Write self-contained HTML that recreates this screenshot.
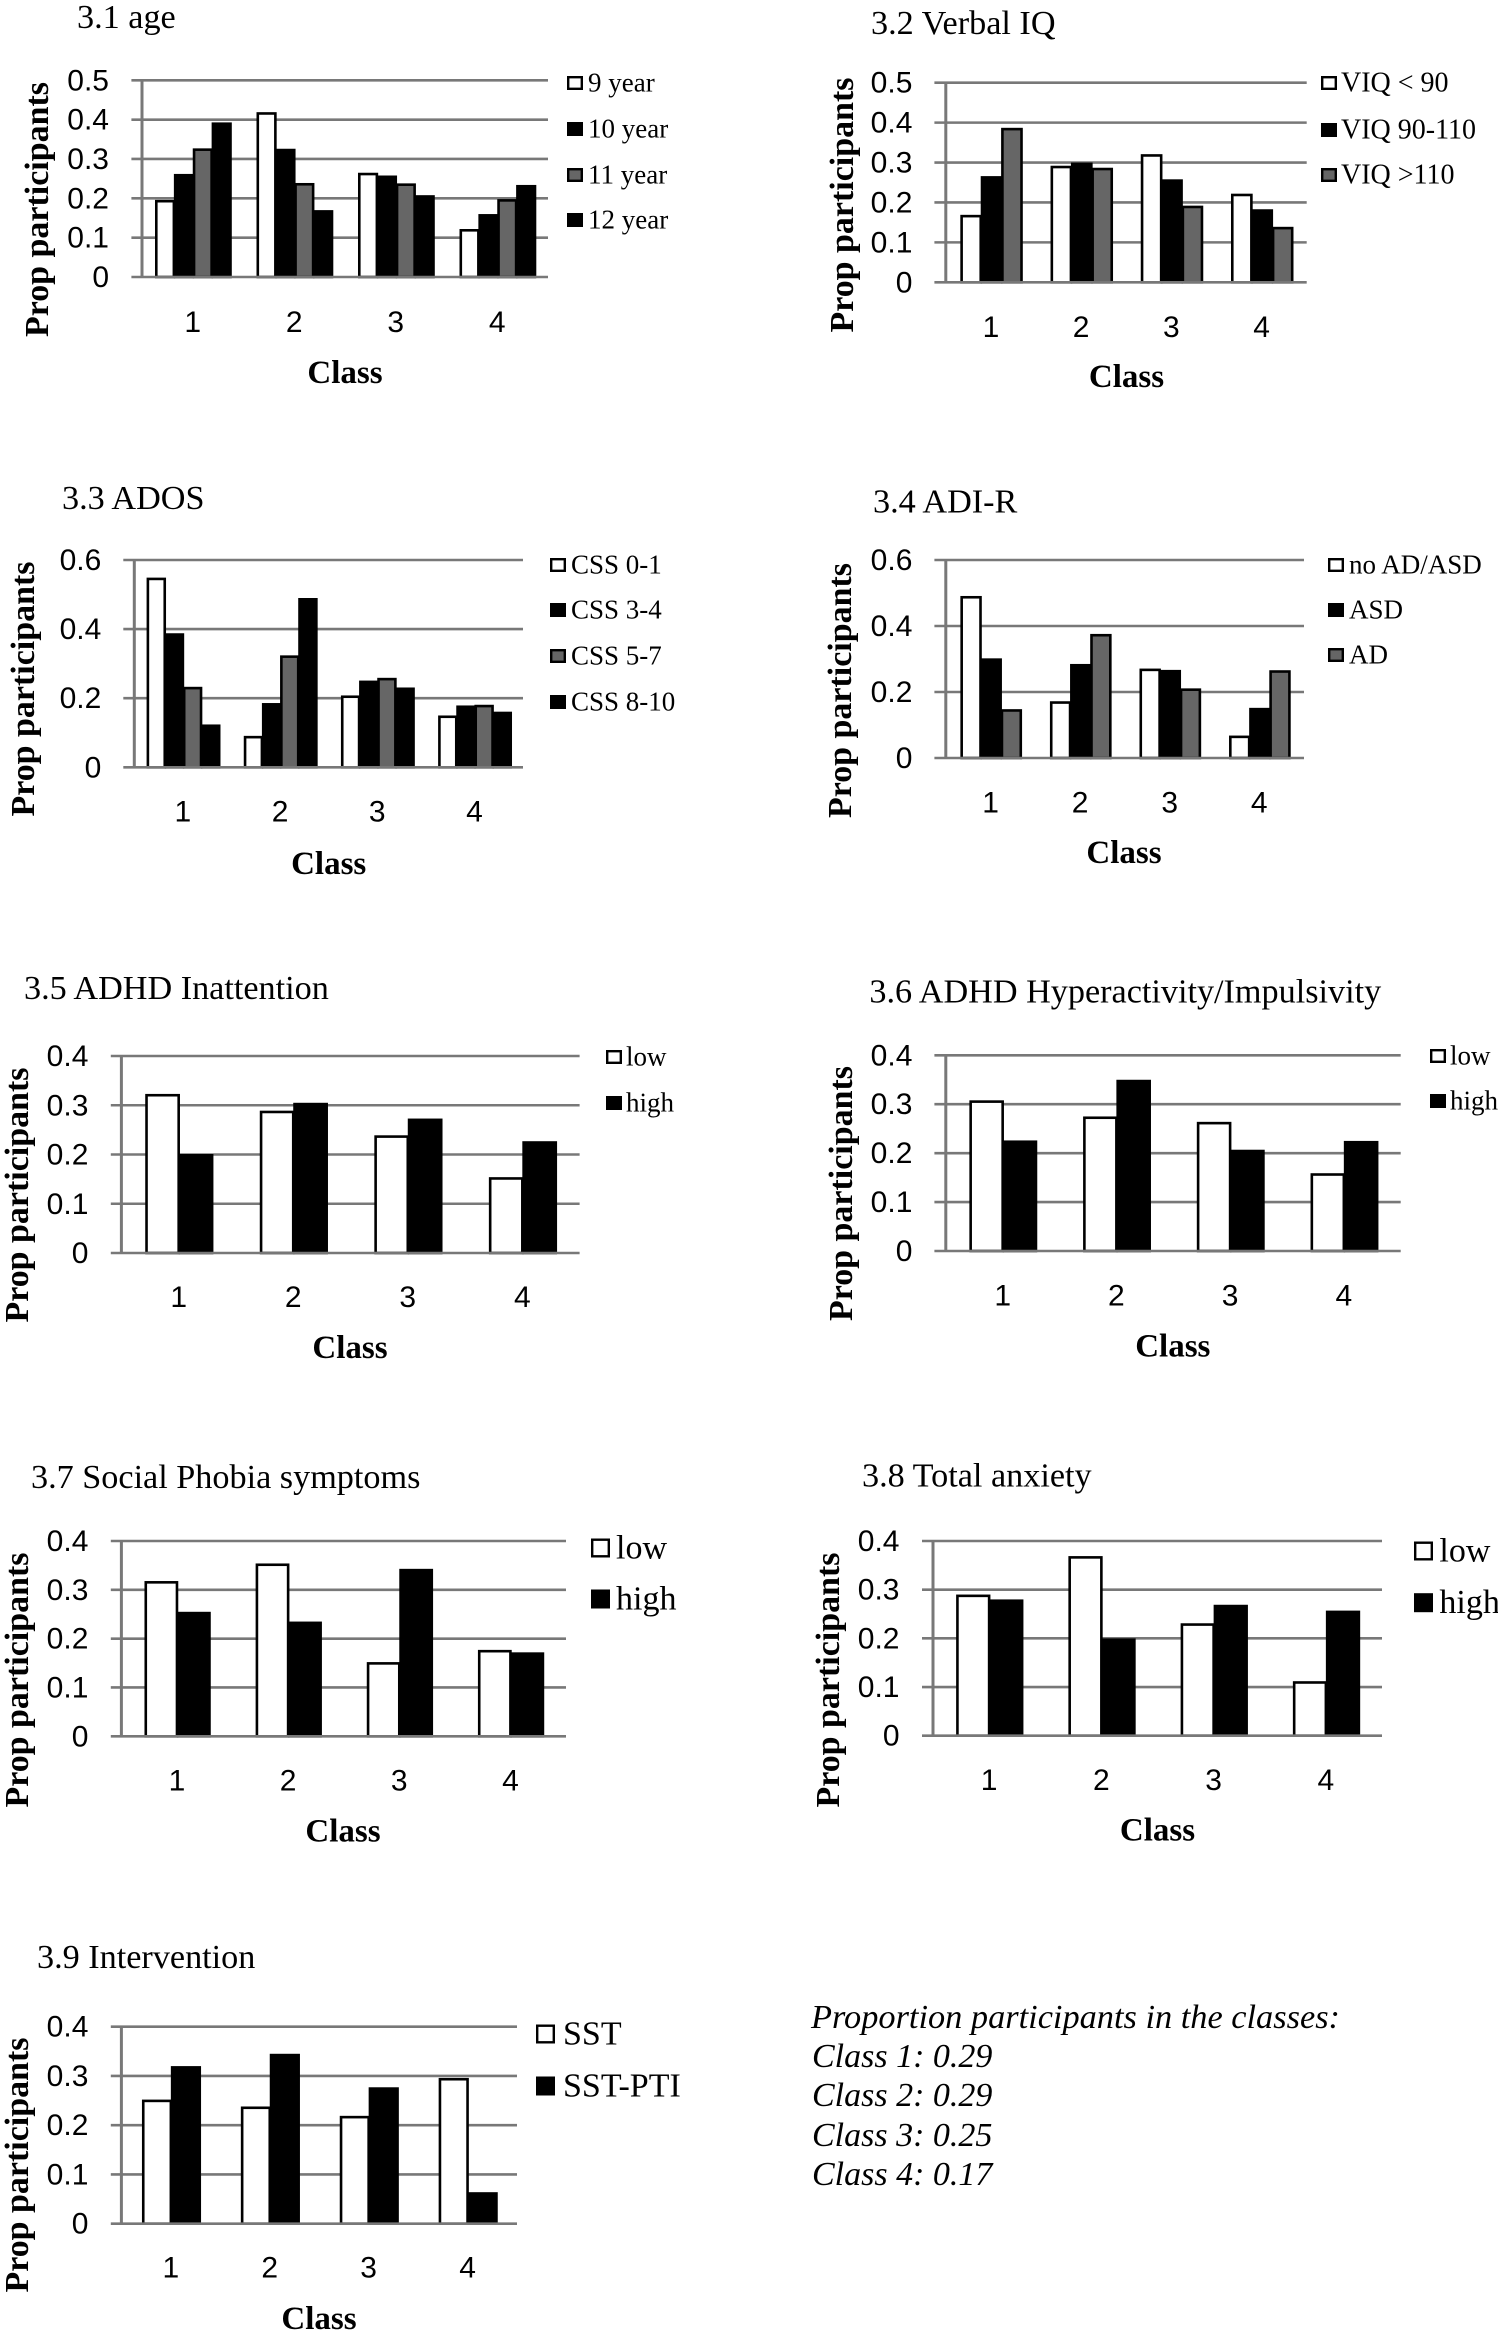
<!DOCTYPE html>
<html lang="en">
<head>
<meta charset="utf-8">
<title>Proportion of participants by class</title>
<style>
html,body{margin:0;padding:0;background:#fff;width:1498px;height:2341px;overflow:hidden}
svg{display:block}
text{fill:#000}
.serif{font-family:"Liberation Serif",serif}
.sans{font-family:"Liberation Sans",sans-serif}
</style>
</head>
<body>
<svg id="figure" xmlns="http://www.w3.org/2000/svg" width="1498" height="2341" viewBox="0 0 1498 2341">
  <g class="serif" font-style="italic" font-size="34">
    <text x="811" y="2028" textLength="529" lengthAdjust="spacingAndGlyphs">Proportion participants in the classes:</text>
    <text x="812" y="2067">Class 1: 0.29</text>
    <text x="812" y="2106">Class 2: 0.29</text>
    <text x="812" y="2146">Class 3: 0.25</text>
    <text x="812" y="2185">Class 4: 0.17</text>
  </g>
</svg>
<script>
// ---------- chart data ----------
const classLabels = ['1', '2', '3', '4'];
const ticks05 = [0, 0.1, 0.2, 0.3, 0.4, 0.5];
const tickLabels05 = ['0', '0.1', '0.2', '0.3', '0.4', '0.5'];
const ticks06 = [0, 0.2, 0.4, 0.6];
const tickLabels06 = ['0', '0.2', '0.4', '0.6'];
const ticks04 = [0, 0.1, 0.2, 0.3, 0.4];
const tickLabels04 = ['0', '0.1', '0.2', '0.3', '0.4'];

const ageNames = ['9 year', '10 year', '11 year', '12 year'];
const age9 = [0.196, 0.419, 0.265, 0.122];
const age10 = [0.262, 0.326, 0.258, 0.160];
const age11 = [0.327, 0.239, 0.238, 0.198];
const age12 = [0.393, 0.170, 0.208, 0.234];

const viqNames = ['VIQ < 90', 'VIQ 90-110', 'VIQ >110'];
const viqLow = [0.169, 0.292, 0.321, 0.222];
const viqMid = [0.266, 0.300, 0.258, 0.183];
const viqHigh = [0.387, 0.287, 0.192, 0.139];

const adosNames = ['CSS 0-1', 'CSS 3-4', 'CSS 5-7', 'CSS 8-10'];
const ados01 = [0.549, 0.091, 0.208, 0.150];
const ados34 = [0.388, 0.186, 0.251, 0.179];
const ados57 = [0.233, 0.324, 0.259, 0.181];
const ados810 = [0.124, 0.490, 0.231, 0.161];

const adiNames = ['no AD/ASD', 'ASD', 'AD'];
const adiNone = [0.491, 0.172, 0.271, 0.068];
const adiAsd = [0.302, 0.285, 0.267, 0.152];
const adiAd = [0.148, 0.376, 0.211, 0.266];

const lowHighNames = ['low', 'high'];
const inattentionLow = [0.323, 0.289, 0.239, 0.154];
const inattentionHigh = [0.201, 0.305, 0.273, 0.227];
const hyperactivityLow = [0.308, 0.275, 0.264, 0.159];
const hyperactivityHigh = [0.226, 0.350, 0.207, 0.225];
const phobiaLow = [0.318, 0.354, 0.152, 0.177];
const phobiaHigh = [0.255, 0.235, 0.343, 0.172];
const anxietyLow = [0.290, 0.369, 0.231, 0.112];
const anxietyHigh = [0.280, 0.200, 0.269, 0.257];

const interventionNames = ['SST', 'SST-PTI'];
const interventionSst = [0.252, 0.238, 0.219, 0.296];
const interventionPti = [0.320, 0.345, 0.277, 0.064];

const fourFills = ['#fff', '#000', '#666', '#000'];
const threeFills = ['#fff', '#000', '#666'];
const twoFills = ['#fff', '#000'];

// ---------- chart definitions (data references plus frame layout) ----------
const charts = [
  {id:'age', title:'3.1 age', tx:77, ty:28, series:[age9, age10, age11, age12], names:ageNames, fills:fourFills, ticks:ticks05, tickLabels:tickLabels05,
   left:142, right:548, top:80.3, base:277, gridStart:131.4, span:75.5, tickRight:109, xBase:332, classX:345, classY:383, ytX:48, ytY:209.5,
   legSwX:567, legTx:588, legY:[83, 129, 175, 220], legSize:27, swW:16, swH:14},
  {id:'verbal-iq', title:'3.2 Verbal IQ', tx:871, ty:34, series:[viqLow, viqMid, viqHigh], names:viqNames, fills:threeFills, ticks:ticks05, tickLabels:tickLabels05,
   left:945.8, right:1306.7, top:82.7, base:282.3, gridStart:934.4, span:61.2, tickRight:912.4, xBase:337, classX:1126.5, classY:387, ytX:853, ytY:205,
   legSwX:1321, legTx:1341, legY:[83, 130, 175], legSize:28, swW:16, swH:14},
  {id:'ados', title:'3.3 ADOS', tx:62, ty:509, series:[ados01, ados34, ados57, ados810], names:adosNames, fills:fourFills, ticks:ticks06, tickLabels:tickLabels06,
   left:134.3, right:523, top:560, base:767.3, gridStart:123.3, span:72.6, tickRight:101.3, xBase:821.7, classX:328.7, classY:874, ytX:34, ytY:689,
   legSwX:550, legTx:571, legY:[565, 610, 656, 702], legSize:27, swW:16, swH:14},
  {id:'adi-r', title:'3.4 ADI-R', tx:873, ty:512.7, series:[adiNone, adiAsd, adiAd], names:adiNames, fills:threeFills, ticks:ticks06, tickLabels:tickLabels06,
   left:945.8, right:1304, top:560, base:758, gridStart:934.4, span:60.4, tickRight:912.4, xBase:812.7, classX:1124, classY:863, ytX:851, ytY:690.5,
   legSwX:1328, legTx:1349, legY:[565, 610, 655], legSize:27, swW:16, swH:14},
  {id:'adhd-inattention', title:'3.5 ADHD Inattention', tx:24, ty:999, series:[inattentionLow, inattentionHigh], names:lowHighNames, fills:twoFills, ticks:ticks04, tickLabels:tickLabels04,
   left:121.4, right:579.6, top:1056, base:1253, gridStart:110.8, span:66.9, tickRight:88.4, xBase:1307, classX:350, classY:1358, ytX:28, ytY:1195,
   legSwX:606, legTx:626, legY:[1057, 1103], legSize:27, swW:16, swH:14},
  {id:'adhd-hyperactivity', title:'3.6 ADHD Hyperactivity/Impulsivity', tx:869.4, ty:1002.7, series:[hyperactivityLow, hyperactivityHigh], names:lowHighNames, fills:twoFills, ticks:ticks04, tickLabels:tickLabels04,
   left:945.8, right:1400.7, top:1055.3, base:1251, gridStart:934.4, span:66.6, tickRight:912.4, xBase:1305.7, classX:1172.8, classY:1356.7, ytX:852, ytY:1193.5,
   legSwX:1430, legTx:1450, legY:[1056, 1101], legSize:27, swW:16, swH:14},
  {id:'social-phobia', title:'3.7 Social Phobia symptoms', tx:31, ty:1488, series:[phobiaLow, phobiaHigh], names:lowHighNames, fills:twoFills, ticks:ticks04, tickLabels:tickLabels04,
   left:121.4, right:566, top:1541, base:1736.3, gridStart:110.8, span:65, tickRight:88.4, xBase:1790.7, classX:343, classY:1841.7, ytX:28, ytY:1680,
   legSwX:591, legTx:616, legY:[1548, 1599], legSize:34, swW:19, swH:19},
  {id:'total-anxiety', title:'3.8 Total anxiety', tx:862, ty:1486.7, series:[anxietyLow, anxietyHigh], names:lowHighNames, fills:twoFills, ticks:ticks04, tickLabels:tickLabels04,
   left:933, right:1382, top:1541, base:1735.7, gridStart:922, span:66, tickRight:899.5, xBase:1790, classX:1157.5, classY:1840.7, ytX:839, ytY:1680,
   legSwX:1414, legTx:1439.4, legY:[1551, 1602.7], legSize:34, swW:19, swH:19},
  {id:'intervention', title:'3.9 Intervention', tx:37, ty:1968, series:[interventionSst, interventionPti], names:interventionNames, fills:twoFills, ticks:ticks04, tickLabels:tickLabels04,
   left:121.4, right:517, top:2026.7, base:2223.7, gridStart:110.8, span:57.8, tickRight:88.4, xBase:2277.7, classX:319, classY:2329, ytX:28, ytY:2165,
   legSwX:536, legTx:563, legY:[2034, 2086], legSize:34, swW:19, swH:19}
];

// ---------- drawing ----------
const NS = 'http://www.w3.org/2000/svg';
const figure = document.getElementById('figure');
const GRID = '#787878';
const EDGE = 2.6;

function make(tag, attrs, parent, content) {
  const el = document.createElementNS(NS, tag);
  for (const k in attrs) el.setAttribute(k, attrs[k]);
  if (content !== undefined) el.textContent = content;
  parent.appendChild(el);
  return el;
}

function yScale(chart, v) {
  const maxTick = chart.ticks[chart.ticks.length - 1];
  return chart.base - (v / maxTick) * (chart.base - chart.top);
}
function groupWidth(chart) {
  return (chart.right - chart.left) / classLabels.length;
}
function xCenter(chart, i) {
  return chart.left + groupWidth(chart) * (i + 0.5);
}

charts.forEach(function (chart) {
  const g = make('g', {}, figure);
  
  

  const title = make('text', {x: chart.tx, y: chart.ty, 'font-size': 34.2, class: 'serif'}, g, chart.title);
  
  

  // gridlines and y tick labels
  chart.ticks.forEach(function (tick, i) {
    const y = yScale(chart, tick);
    if (tick !== 0) {
      const line = make('line', {x1: chart.gridStart, x2: chart.right, y1: y, y2: y, stroke: GRID, 'stroke-width': 2.6}, g);
      
      
    }
    const label = make('text', {x: chart.tickRight, y: y + 10, 'text-anchor': 'end', 'font-size': 30, class: 'sans'}, g, chart.tickLabels[i]);
    
    
  });

  const yAxis = make('line', {x1: chart.left, x2: chart.left, y1: chart.top, y2: chart.base, stroke: GRID, 'stroke-width': 3}, g);
  
  

  // bars
  const barW = chart.span / chart.series.length;
  chart.series.forEach(function (values, s) {
    values.forEach(function (v, i) {
      const x0 = xCenter(chart, i) - chart.span / 2 + s * barW;
      const yTop = yScale(chart, v);
      const bar = make('rect', {
        x: x0 + EDGE / 2, y: yTop + EDGE / 2,
        width: barW - EDGE / 2, height: Math.max(chart.base - yTop - EDGE / 2, 0),
        fill: chart.fills[s], stroke: '#000', 'stroke-width': EDGE
      }, g);
      
      
    });
  });

  const xAxis = make('line', {x1: chart.gridStart, x2: chart.right, y1: chart.base, y2: chart.base, stroke: GRID, 'stroke-width': 2.6}, g);
  
  

  // x tick labels
  classLabels.forEach(function (c, i) {
    const label = make('text', {x: xCenter(chart, i), y: chart.xBase, 'text-anchor': 'middle', 'font-size': 30, class: 'sans'}, g, c);
    
    
  });

  const xTitle = make('text', {x: chart.classX, y: chart.classY, 'text-anchor': 'middle', 'font-size': 33, 'font-weight': 'bold', class: 'serif'}, g, 'Class');
  
  

  const yTitle = make('text', {
    x: 0, y: 0, transform: 'translate(' + chart.ytX + ' ' + chart.ytY + ') rotate(-90)',
    'text-anchor': 'middle', 'font-size': 34, 'font-weight': 'bold', class: 'serif',
    textLength: 255, lengthAdjust: 'spacingAndGlyphs'
  }, g, 'Prop participants');
  
  

  // legend
  chart.names.forEach(function (name, s) {
    const cy = chart.legY[s];
    const swatch = make('rect', {
      x: chart.legSwX + 1.2, y: cy - chart.swH / 2 + 1.2,
      width: chart.swW - 2.4, height: chart.swH - 2.4,
      fill: chart.fills[s], stroke: '#000', 'stroke-width': 2.4
    }, g);
    
    
    const label = make('text', {x: chart.legTx, y: cy + chart.legSize * 0.31, 'font-size': chart.legSize, class: 'serif'}, g, name);
    
    
  });
});
</script>
</body>
</html>
